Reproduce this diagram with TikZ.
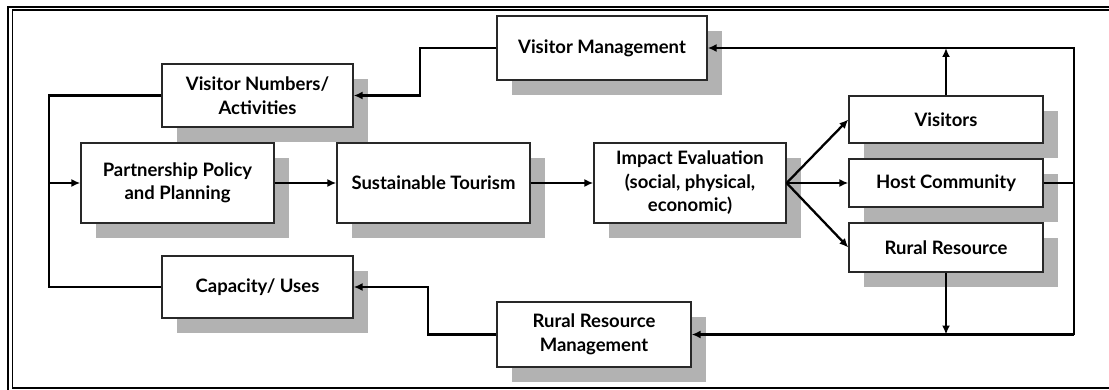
\documentclass[tikz,border=0pt]{standalone}
\usepackage{fontspec}
\setmainfont{Lato}
\usetikzlibrary{arrows.meta,shadows}
\definecolor{shadowgray}{RGB}{178,178,178}
\definecolor{boxline}{RGB}{40,40,40}
\begin{document}
\begin{tikzpicture}[x=1pt,y=-1pt,
  box/.style={draw=boxline,line width=1.3pt,fill=white,align=center,
    font=\fontsize{18.5}{23.5}\selectfont\bfseries,inner sep=0pt,
    drop shadow={shadow xshift=15pt,shadow yshift=-15pt,fill=shadowgray,opacity=1}},
  conn/.style={line width=2.3pt,black},
  arr/.style={conn,-{Latex[length=9pt,width=8pt]}}]
\useasboundingbox (0,0) rectangle (1109,390);
\clip (0,0) rectangle (1109,390);
\fill[white] (0,0) rectangle (1109,390);
% frame
\draw[line width=2.6pt] (8,7.2) rectangle (1125,400);
\draw[line width=1.5pt] (12.3,10.2) rectangle (1118,388);
% boxes
\node[box,minimum width=210pt,minimum height=64pt] (vm) at (602,48) {Visitor Management};
\node[box,minimum width=191pt,minimum height=63pt] (vn) at (257.5,95.5) {Visitor Numbers/\\Activities};
\node[box,minimum width=193pt,minimum height=80pt] (pp) at (177.5,183) {Partnership Policy\\and Planning};
\node[box,minimum width=193pt,minimum height=80pt] (st) at (433.5,183) {Sustainable Tourism};
\node[box,minimum width=192pt,minimum height=80pt] (ie) at (690,183) {Impact Evaluation\\(social, physical,\\economic)};
\node[box,minimum width=194pt,minimum height=47pt] (vis) at (946,119.5) {Visitors};
\node[box,minimum width=194pt,minimum height=48pt] (hc) at (946,183) {Host Community};
\node[box,minimum width=194pt,minimum height=49pt] (rr) at (946,247.5) {Rural Resource};
\node[box,minimum width=191pt,minimum height=62pt] (cap) at (257.5,287) {Capacity/ Uses};
\node[box,minimum width=194pt,minimum height=65pt] (rrm) at (594,334.5) {Rural Resource\\Management};
% junction coordinates
\coordinate (lt) at (49,95.5);
\coordinate (lb) at (49,287);
\coordinate (j1) at (420,48);
\coordinate (j2) at (428,334.5);
\coordinate (tr) at (1074,48);
\coordinate (br) at (1074,334.5);
% connectors
\draw[conn] (vn.west) -- (lt) -- (lb) -- (cap.west);
\draw[arr] (lt |- pp.west) -- (pp.west);
\draw[arr] (pp.east) -- (st.west);
\draw[arr] (st.east) -- (ie.east -| ie.west);
\draw[arr] (ie.east) -- (vis.west);
\draw[arr] (ie.east) -- (hc.west);
\draw[arr] (ie.east) -- (rr.west);
\draw[conn] (hc.east) -- (hc.east -| tr);
\draw[arr] (br) -- (tr) -- (vm.east);
\draw[arr] (br) -- (rrm.east);
\draw[arr] (vis.north) -- (vis.north |- tr);
\draw[arr] (rr.south) -- (rr.south |- br);
\draw[arr] (vm.west) -- (j1) |- (vn.east);
\draw[arr] (rrm.west) -- (j2) |- (cap.east);
\end{tikzpicture}
\end{document}
